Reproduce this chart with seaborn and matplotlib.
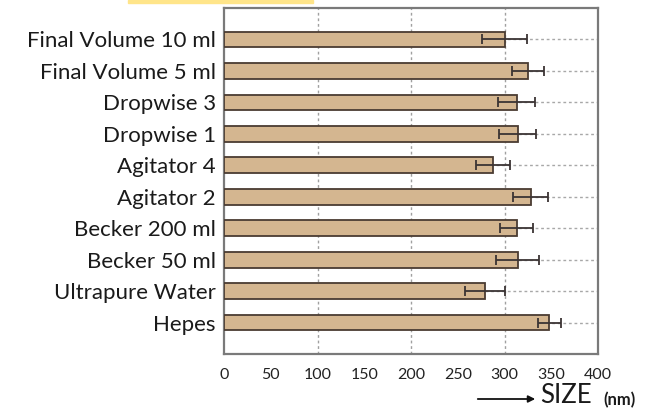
import matplotlib
matplotlib.use("Agg")
import matplotlib.pyplot as plt
import seaborn as sns
import numpy as np
import pandas as pd
from matplotlib.patches import Rectangle, FancyArrowPatch

categories = ["Final Volume 10 ml", "Final Volume 5 ml", "Dropwise 3", "Dropwise 1",
              "Agitator 4", "Agitator 2", "Becker 200 ml", "Becker 50 ml",
              "Ultrapure Water", "Hepes"]
sizes = [300, 325, 313, 314, 288, 328, 313, 314, 279, 348]
errors = [24, 17, 20, 20, 18, 19, 18, 23, 21, 12]
x_ticks = [0, 50, 100, 150, 200, 250, 300, 350, 400]

sns.set_theme(style="white")
plt.rcParams['font.family'] = ['Lato', 'DejaVu Sans']

df = pd.DataFrame({"cat": categories, "size": sizes, "err": errors})

fig = plt.figure(figsize=(6.47, 4.09), dpi=100)
ax = fig.add_axes([224/647, 1-354/409, (598-224)/647, (354-8)/409])

sns.barplot(data=df, x="size", y="cat", orient="h", ax=ax, color="#D4B690",
            edgecolor="#4a3c32", linewidth=1.3, width=0.5, saturation=1, zorder=3)
ax.errorbar(df["size"], np.arange(len(df)), xerr=df["err"], fmt="none",
            ecolor="#3b3434", elinewidth=1.3, capsize=3.5, capthick=1.3, zorder=4)

ax.set_xlim(0, 400)
ax.set_ylim(len(categories) - 0.0, -1.0)
ax.set_xlabel("")
ax.set_ylabel("")

ax.set_xticks(x_ticks)
ax.set_xticklabels([str(t) for t in x_ticks], fontsize=11.5)
ax.xaxis.grid(False)
for v in x_ticks:
    if v % 100 == 0 and 0 < v < 400:
        ax.axvline(v, color="#a0a0a0", linestyle=(0, (2, 2)), linewidth=1, zorder=0)
ax.yaxis.grid(True, color="#a8a8a8", linestyle=(0, (2, 2)), linewidth=1)
ax.set_axisbelow(True)

ax.tick_params(axis="x", direction="out", length=4, width=1.2, color="#707070",
               pad=6, labelcolor="#222222")
ax.tick_params(axis="y", length=0, pad=6, labelsize=16, labelcolor="#1a1a1a")

for s in ax.spines.values():
    s.set_color("#7a7a7a")
    s.set_linewidth(1.6)

# highlight strip at top
fig.patches.append(Rectangle((128/647, 1-3/409), (313-128)/647, 3/409,
                             transform=fig.transFigure, color="#FFE58A", zorder=5))

# axis title with arrow
fig.add_artist(FancyArrowPatch((475/647, 1-399/409), (538/647, 1-399/409),
               transform=fig.transFigure, arrowstyle="-|>", mutation_scale=10,
               color="#111111", linewidth=1.3))
fig.text(540/647, 0.6/409, "SIZE", fontsize=18.5, color="#1a1a1a", va="bottom", ha="left")
fig.text(603/647, 0.6/409, "(nm)", fontsize=12, fontweight="bold", color="#1a1a1a",
         va="bottom", ha="left")

fig.savefig("out.png", dpi=100)
